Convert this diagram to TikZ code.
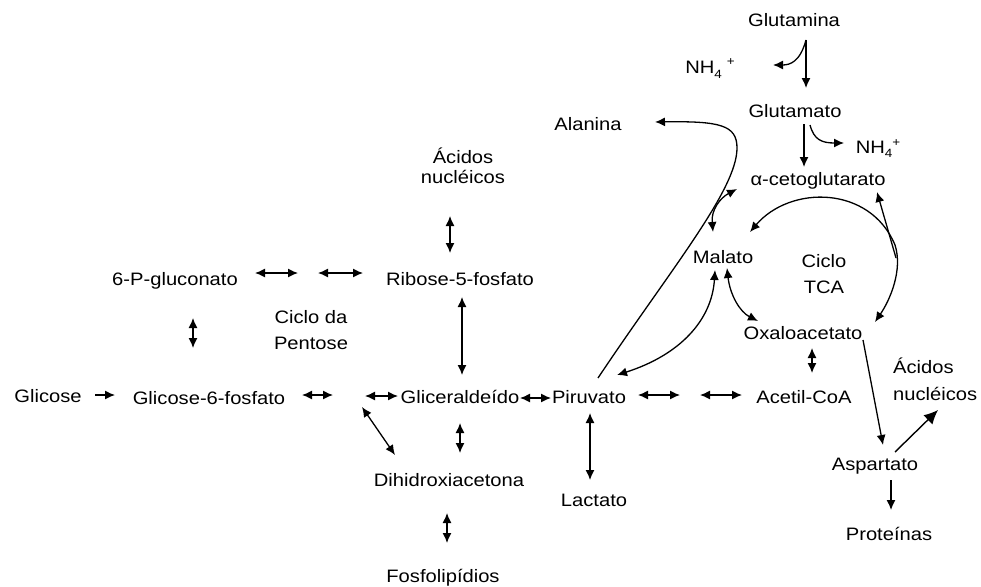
\documentclass[tikz,border=0pt]{standalone}
\usepackage{fontspec}
\setmainfont[FakeStretch=1.12]{Liberation Sans}
\usetikzlibrary{arrows.meta}
\newcommand{\smallfs}{\fontsize{12}{12}\selectfont}
\begin{document}
\begin{tikzpicture}[x=1pt,y=-1pt,
  lbl/.style={inner sep=0pt, anchor=base, font=\fontsize{18}{22}\selectfont},
  arr/.style={line width=1.3pt, -{Latex[length=10pt,width=9pt]}},
  dbl/.style={line width=1.3pt, {Latex[length=10pt,width=9pt]}-{Latex[length=10pt,width=9pt]}},
  big/.style={line width=1.4pt, -{Latex[length=14pt,width=13pt]}}]
\useasboundingbox (0,0) rectangle (981,586);

% nodes
\node[lbl] (glutamina) at (794,27) {Glutamina};
\node[lbl] (nh4a) at (710,74) {NH\raisebox{-5pt}{\smallfs 4}\kern5pt\raisebox{8pt}{\smallfs +}};
\node[lbl] (glutamato) at (795,117) {Glutamato};
\node[lbl] (nh4b) at (878,153) {NH\raisebox{-4pt}{\smallfs 4}\raisebox{7pt}{\smallfs +}};
\node[lbl] (akg) at (818,185) {α-cetoglutarato};
\node[lbl] (alanina) at (588,130) {Alanina};
\node[lbl] (malato) at (723,263) {Malato};
\node[lbl,align=center,font=\fontsize{18}{26}\selectfont] (tca) at (824,293) {Ciclo\\TCA};
\node[lbl] (oxalo) at (803,339) {Oxaloacetato};
\node[lbl] (acetil) at (804,403) {Acetil-CoA};
\node[lbl] (piruvato) at (589,403) {Piruvato};
\node[lbl] (gliceral) at (460,403) {Gliceraldeído};
\node[lbl] (ribose) at (460,285) {Ribose-5-fosfato};
\node[lbl,align=center,font=\fontsize{18}{20}\selectfont] (acidosA) at (463,183) {Ácidos\\nucléicos};
\node[lbl] (gluconato) at (175,285) {6-P-gluconato};
\node[lbl,align=center,font=\fontsize{18}{26}\selectfont] (pentose) at (311,349) {Ciclo da\\Pentose};
\node[lbl] (glicose) at (48,402) {Glicose};
\node[lbl] (g6p) at (209,404) {Glicose-6-fosfato};
\node[lbl] (dhap) at (449,486) {Dihidroxiacetona};
\node[lbl] (fosfo) at (443,582) {Fosfolipídios};
\node[lbl] (lactato) at (594,506) {Lactato};
\node[lbl,align=left,font=\fontsize{18}{27}\selectfont,anchor=base west] (acidosB) at (893,400) {Ácidos\\nucléicos};
\node[lbl] (aspartato) at (875,470) {Aspartato};
\node[lbl] (proteinas) at (889,540) {Proteínas};

% glutamine / glutamate
\draw[arr] (806,40) -- (806,88);
\draw[arr] (806,40) .. controls (800,62) and (790,65) .. (773,65);
\draw[arr] (804,124) -- (804,167);
\draw[arr] (810,125) .. controls (814,140) and (822,143) .. (844,143);

% alanina
\draw[arr] (598,378) .. controls (670,270) and (737,190) .. (737,148)
  .. controls (737,125) and (720,121) .. (655,122);

% TCA
\draw[dbl] (737,189) .. controls (720,198) and (711,210) .. (713,232);
\draw[dbl] (750,232) .. controls (790,185) and (870,185) .. (895,245)
  .. controls (903,270) and (890,300) .. (875,322);
\draw[arr] (896,258) -- (877,192);
\draw[dbl] (727,268) .. controls (730,295) and (740,312) .. (758,321);
\draw[dbl] (617,375) .. controls (680,355) and (712,320) .. (715,270);
\draw[dbl] (812,348) -- (812,373);
\draw[arr] (863,340) -- (883,445);
\draw[big] (895,452) -- (938,410);
\draw[arr] (891,480) -- (891,510);

% glycolysis
\draw[dbl] (638,395) -- (680,395);
\draw[dbl] (700,395) -- (742,395);
\draw[dbl] (590,413) -- (590,480);
\draw[dbl] (520,398) -- (551,398);
\draw[dbl] (365,396) -- (398,396);
\draw[dbl] (362,407) -- (395,455);
\draw[dbl] (460,423) -- (460,453);
\draw[dbl] (447,513) -- (447,543);
\draw[dbl] (462,297) -- (462,375);
\draw[dbl] (450,216) -- (450,253);
\draw[dbl] (255,273) -- (298,273);
\draw[dbl] (318,273) -- (363,273);
\draw[dbl] (193,318) -- (193,348);
\draw[arr] (95,395) -- (115,395);
\draw[dbl] (302,395) -- (333,395);
\end{tikzpicture}
\end{document}
